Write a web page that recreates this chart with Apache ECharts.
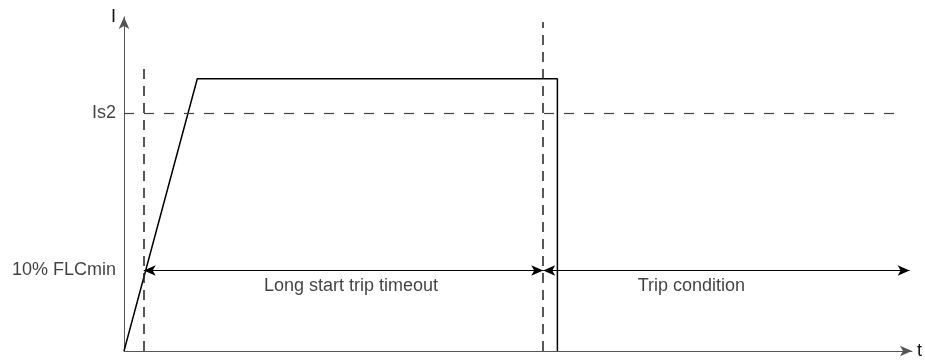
<!DOCTYPE html>
<html>
<head>
<meta charset="utf-8">
<style>
  html, body { margin: 0; padding: 0; background: #fff; }
  #container { width: 925px; height: 360px; }
</style>
<script src="https://cdn.jsdelivr.net/npm/echarts@6/dist/echarts.min.js"></script>
</head>
<body>
<div id="container"></div>
<script>
// current profile (t, I) in arbitrary units, axes run 0..100
var profileT = [0, 9.3, 55, 55];
var profileI = [0, 81.5, 81.5, 0];

// dashed vertical markers
var markerT = [2.5, 53.2];
var markerTop = [84.5, 98.5];

// current levels
var levelNames = ['Is2', '10% FLCmin'];
var levelValues = [71.1, 24.1];
var levelDashEnd = 98.7;

// timed spans
var spanNames = ['Long start trip timeout', 'Trip condition'];
var spanStart = [2.5, 53.2];
var spanEnd = [53.2, 99.7];
var spanLabelT = [28.8, 72.0];
var spanLabelI = 19.6;

var textFont = 'Liberation Sans, Arial, sans-serif';
var textColor = '#111';
var dom = document.getElementById('container');
var myChart = echarts.init(dom);

var profileData = profileT.map(function (t, i) {
    return [t, profileI[i]];
});

var markerLines = markerT.map(function (t, i) {
    return [{ coord: [t, 0] }, { coord: [t, markerTop[i]] }];
});

var spanLines = spanStart.map(function (s, i) {
    return [{ coord: [s, levelValues[1]] }, { coord: [spanEnd[i], levelValues[1]] }];
});

var levelLabels = levelNames.map(function (name, i) {
    return { name: name, value: [0, levelValues[i]] };
});

var spanLabels = spanNames.map(function (name, i) {
    return { name: name, value: [spanLabelT[i], spanLabelI] };
});

var option = {
    animation: false,
    grid: { left: 124, right: 13, top: 17, bottom: 7 },
    xAxis: {
        type: 'value',
        min: 0,
        max: 100,
        name: 't',
        nameLocation: 'end',
        nameGap: 5,
        nameTextStyle: { fontFamily: textFont, fontSize: 18, color: textColor, align: 'left', verticalAlign: 'middle', padding: [2, 0, 0, 0] },
        axisLine: { show: true, symbol: ['none', 'arrow'], symbolSize: [8, 12], lineStyle: { color: '#555', width: 1 } },
        axisTick: { show: false },
        axisLabel: { show: false },
        splitLine: { show: false }
    },
    yAxis: {
        type: 'value',
        min: 0,
        max: 100,
        name: 'I',
        nameLocation: 'end',
        nameGap: 0,
        nameTextStyle: { fontFamily: textFont, fontSize: 18, color: textColor, align: 'right', verticalAlign: 'middle', padding: [0, 8, 0, 0] },
        axisLine: { show: true, symbol: ['none', 'arrow'], symbolSize: [8, 12], lineStyle: { color: '#555', width: 1 } },
        axisTick: { show: false },
        axisLabel: { show: false },
        splitLine: { show: false }
    },
    series: [{
        type: 'line',
        data: profileData,
        showSymbol: false,
        lineStyle: { color: '#000', width: 1.5 },
        silent: true
    }, {
        type: 'line',
        data: [],
        markLine: {
            silent: true,
            symbol: ['none', 'none'],
            label: { show: false },
            lineStyle: { color: '#222', width: 1.5, type: [10, 7] },
            data: markerLines.concat([[
                { coord: [0, levelValues[0]], lineStyle: { type: [10, 10], color: '#444', width: 1.2 } },
                { coord: [levelDashEnd, levelValues[0]] }
            ]])
        }
    }, {
        type: 'line',
        data: [],
        markLine: {
            silent: true,
            symbol: ['arrow', 'arrow'],
            symbolSize: [8, 12],
            label: { show: false },
            lineStyle: { color: '#000', width: 1, type: 'solid' },
            data: spanLines
        }
    }, {
        type: 'scatter',
        data: levelLabels,
        symbolSize: 0,
        silent: true,
        label: {
            show: true,
            position: 'left',
            distance: 8,
            formatter: function (p) { return p.name; },
            fontFamily: textFont,
            fontSize: 18,
            color: textColor
        }
    }, {
        type: 'scatter',
        data: spanLabels,
        symbolSize: 0,
        silent: true,
        label: {
            show: true,
            position: 'inside',
            formatter: function (p) { return p.name; },
            fontFamily: textFont,
            fontSize: 18,
            color: textColor
        }
    }]
};

myChart.setOption(option);
</script>
</body>
</html>
